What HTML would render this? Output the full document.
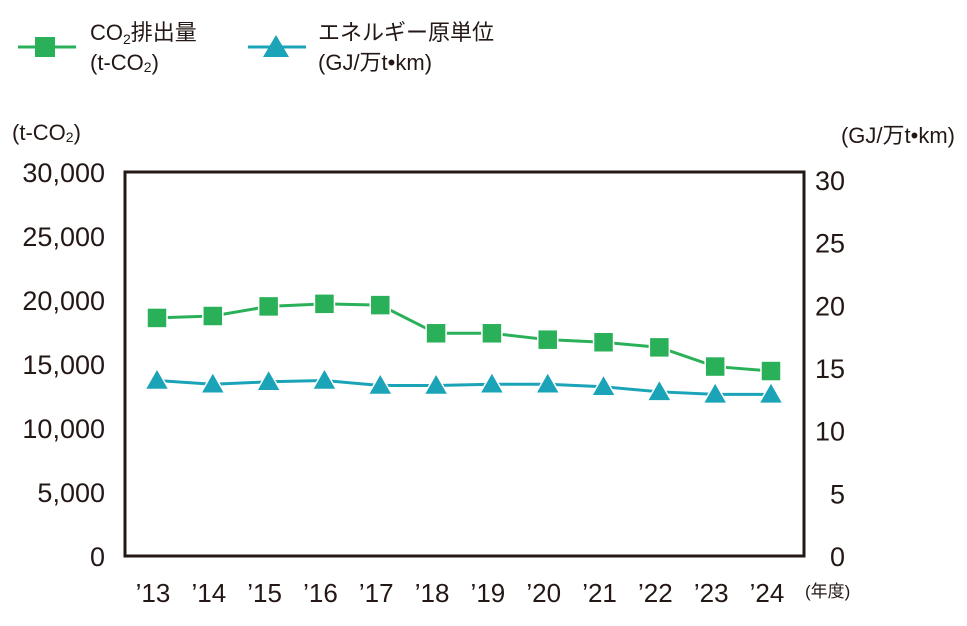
<!DOCTYPE html>
<html><head><meta charset="utf-8"><style>
body{margin:0;background:#fff;}
svg text{font-family:"Liberation Sans","Noto Sans CJK JP",sans-serif;fill:#231815;}
</style></head><body>
<svg width="967" height="621" viewBox="0 0 967 621">
<g>
 <g>
  <line x1="18" y1="47" x2="76" y2="47" stroke="#2bb05a" stroke-width="3"/>
  <rect x="35" y="37" width="20" height="20" fill="#2bb05a"/>
  <text x="90" y="40" font-size="22">CO<tspan font-size="14" dy="4">2</tspan><tspan dy="-4">排出量</tspan></text>
  <text x="90" y="70" font-size="22">(t-CO<tspan font-size="14" dy="2">2</tspan><tspan dy="-2">)</tspan></text>
 </g>
 <g>
  <line x1="248" y1="47" x2="306" y2="47" stroke="#1ba3b8" stroke-width="3"/>
  <polygon points="276,35 289,57 263,57" fill="#1ba3b8"/>
  <text x="318" y="40" font-size="22">エネルギー原単位</text>
  <text x="318" y="70" font-size="22">(GJ/万t•km)</text>
 </g>
</g>
<text x="12" y="140" font-size="22">(t-CO<tspan font-size="14" dy="2">2</tspan><tspan dy="-2">)</tspan></text>
<text x="955" y="143" font-size="22" text-anchor="end">(GJ/万t•km)</text>
<rect x="125" y="172" width="679" height="384" fill="none" stroke="#231815" stroke-width="3"/>
<g id="leftTicks"></g>
<g id="rightTicks"></g>
<g id="xTicks"></g>
<text x="805" y="597" font-size="17">(年度)</text>
<g id="series"></g>
</svg>
<script>
const categories=["’13","’14","’15","’16","’17","’18","’19","’20","’21","’22","’23","’24"];
const co2Values=[18600,18750,19500,19700,19600,17400,17400,16900,16700,16300,14800,14450];
const energyValues=[14.0,13.7,13.9,14.0,13.6,13.6,13.7,13.7,13.5,13.1,12.9,12.9];
const leftTickLabels=["0","5,000","10,000","15,000","20,000","25,000","30,000"];
const leftTickValues=[0,5000,10000,15000,20000,25000,30000];
const rightTickValues=[0,5,10,15,20,25,30];
const NS="http://www.w3.org/2000/svg";
function yL(v){return 556-v*(384/30000);}
function yR(v){return 556-v*(376/30);}
function xP(i){return 157+i*(614/11);}
function mk(tag,attrs,parent){const e=document.createElementNS(NS,tag);for(const k in attrs)e.setAttribute(k,attrs[k]);parent.appendChild(e);return e;}
const lt=document.getElementById('leftTicks'),rt=document.getElementById('rightTicks'),xt=document.getElementById('xTicks'),sg=document.getElementById('series');
leftTickValues.forEach((v,i)=>{const t=mk('text',{x:105,y:yL(v)+10,'font-size':27,'text-anchor':'end'},lt);


t.textContent=leftTickLabels[i];});
rightTickValues.forEach(v=>{const t=mk('text',{x:845,y:yR(v)+10,'font-size':27,'text-anchor':'end'},rt);


t.textContent=String(v);});
categories.forEach((c,i)=>{const t=mk('text',{x:xP(i)-4,y:602,'font-size':26,'text-anchor':'middle'},xt);


t.textContent=c;});
const ln1=mk('polyline',{points:co2Values.map((v,i)=>xP(i)+','+yL(v)).join(' '),fill:'none',stroke:'#2bb05a','stroke-width':3},sg);


const ln2=mk('polyline',{points:energyValues.map((v,i)=>xP(i)+','+yR(v)).join(' '),fill:'none',stroke:'#1ba3b8','stroke-width':3},sg);


co2Values.forEach((v,i)=>{const r=mk('rect',{x:xP(i)-10,y:yL(v)-10,width:20,height:20,fill:'#2bb05a',stroke:'#fff','stroke-width':1.5},sg);

});
energyValues.forEach((v,i)=>{const x=xP(i),y=yR(v);const p=mk('polygon',{points:`${x},${y-12} ${x+12},${y+9} ${x-12},${y+9}`,fill:'#1ba3b8',stroke:'#fff','stroke-width':1.5},sg);

});
</script>
</body></html>
